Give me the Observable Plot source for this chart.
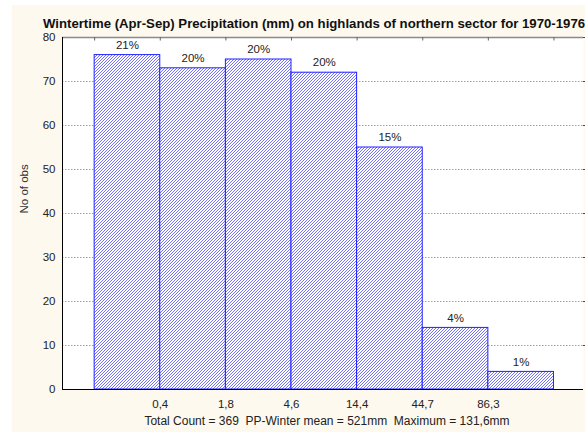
<!DOCTYPE html>
<html>
<head>
<meta charset="utf-8">
<script src="https://cdn.jsdelivr.net/npm/d3@7"></script>
<script src="https://cdn.jsdelivr.net/npm/@observablehq/plot@0.6"></script>
<style>
  html, body { margin: 0; padding: 0; background: #ffffff; }
  #chart { position: absolute; left: 12px; top: 5px; width: 573px; height: 427px; background: #fdf9ee; }
  #chart svg { display: block; background: transparent; font-family: "Liberation Sans", Arial, sans-serif; }
</style>
</head>
<body>
<div id="chart"></div>
<script>
// ---- data ----
const binEdgeLabels = ["0,4", "1,8", "4,6", "14,4", "44,7", "86,3"];
const counts = [76, 73, 75, 72, 55, 14, 4];
const pctLabels = ["21%", "20%", "20%", "20%", "15%", "4%", "1%"];
const yTicks = [0, 10, 20, 30, 40, 50, 60, 70, 80];
const titleText = "Wintertime (Apr-Sep) Precipitation (mm) on highlands of northern sector for 1970-1976";
const yLabelText = "No of obs";
const captionText = "Total Count = 369  PP-Winter mean = 521mm  Maximum = 131,6mm";

const bins = counts.map((c, i) => ({ x1: i, x2: i + 1, count: c, pct: pctLabels[i] }));
const edges = d3.range(0, counts.length + 1);
const xMin = -0.49, xMax = 7.45;

const W = 573, H = 427;
const mL = 50, mR = 2, mT = 32, mB = 43;

const chart = Plot.plot({
  width: W,
  height: H,
  marginLeft: mL,
  marginRight: mR,
  marginTop: mT,
  marginBottom: mB,
  style: { fontSize: "11px", color: "#222", background: "transparent", overflow: "visible" },
  x: { domain: [xMin, xMax], axis: null },
  y: { domain: [0, 80], axis: null },
  marks: [
    Plot.frame({ fill: "white", stroke: null }),
    Plot.gridY(yTicks.filter(d => d > 0 && d < 80), { stroke: "#a0a0a0", strokeOpacity: 1, strokeDasharray: "1.5,1.5" }),
    Plot.rectY(bins, { x1: "x1", x2: "x2", y: "count", fill: "white", stroke: "#2020ff", strokeWidth: 1, className: "hatchbars" }),
    Plot.text(bins, { x: d => (d.x1 + d.x2) / 2, y: "count", text: "pct", dy: -10, fontSize: 11.5, fill: "#222" }),
    // axes lines
    Plot.ruleY([80], { stroke: "#8a8a8a", strokeWidth: 1.5 }),
    Plot.ruleX(edges, { x: d => d, y1: 80, y2: 79.2, stroke: "#666" }),
    Plot.ruleY(yTicks.filter(d => d > 0), { y: d => d, x1: xMax, x2: xMax + 0.05, stroke: "#444" }),
    Plot.ruleY([0], { stroke: "#000" }),
    Plot.ruleX([xMin], { stroke: "#000" }),
    Plot.axisY({ ticks: yTicks, tickSize: 0, tickPadding: 7, label: null, fontSize: 11.5 }),
    Plot.axisX({ ticks: edges.slice(1, 7), tickFormat: d => binEdgeLabels[d - 1], tickSize: 0, tickPadding: 10, label: null, fontSize: 11.5 }),
    // title, y label, caption
    Plot.text([titleText], { frameAnchor: "top", dy: -19, dx: -9, fontWeight: "bold", fontSize: 13.2, fill: "#111" }),
    Plot.text([yLabelText], { frameAnchor: "left", rotate: -90, dx: -38, fontSize: 11.5, fill: "#333" }),
    Plot.text([captionText], { frameAnchor: "bottom", dy: 35, dx: 4, fontSize: 12, fill: "#222" })
  ]
});

// hatch pattern for bars
const svgNS = "http://www.w3.org/2000/svg";
const defs = document.createElementNS(svgNS, "defs");
defs.innerHTML = `<pattern id="hatch" patternUnits="userSpaceOnUse" width="3" height="3">
  <rect width="3" height="3" fill="#ffffff"/>
  <path d="M-0.75,0.75 L0.75,-0.75 M0,3 L3,0 M2.25,3.75 L3.75,2.25" stroke="#5a5aff" stroke-width="0.85"/>
</pattern>`;
chart.insertBefore(defs, chart.firstChild);
chart.querySelectorAll(".hatchbars rect, g.hatchbars rect").forEach(r => r.setAttribute("fill", "url(#hatch)"));
document.getElementById("chart").appendChild(chart);
</script>
</body>
</html>
